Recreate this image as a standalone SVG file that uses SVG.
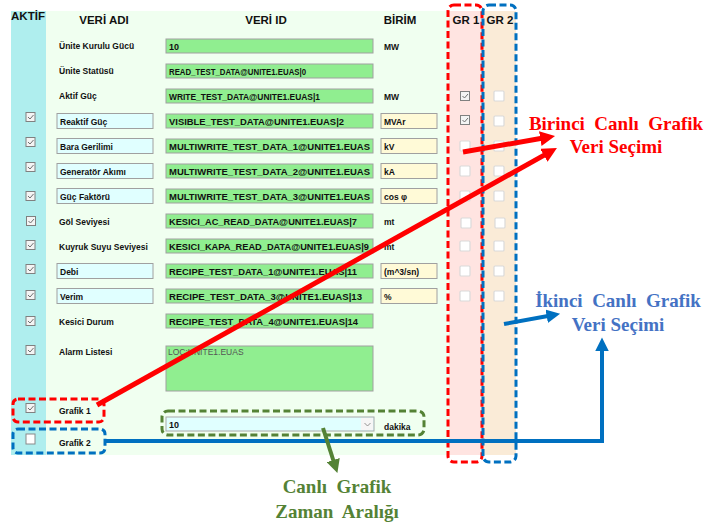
<svg xmlns="http://www.w3.org/2000/svg" width="713" height="523" viewBox="0 0 713 523">
<style>
.lbl{font-family:"Liberation Sans",Arial,sans-serif;font-weight:bold;font-size:8.5px;fill:#111}
.hdr{font-family:"Liberation Sans",Arial,sans-serif;font-weight:bold;font-size:11.5px;fill:#111}
.idt{font-family:"Liberation Sans",Arial,sans-serif;font-weight:bold;font-size:9px;fill:#111}
.idbox{fill:#90EE90;stroke:#A0A0A0;stroke-width:1}
.nbox{fill:#E0FFFF;stroke:#A0A0A0;stroke-width:1}
.ubox{fill:#FFFAD7;stroke:#A0A0A0;stroke-width:1}
.ann{font-family:"Liberation Serif","Times New Roman",serif;font-weight:bold;font-size:19px;white-space:pre}
.cb{fill:#F4F4F4;stroke:#808080;stroke-width:1}
.ck{fill:none;stroke:#707070;stroke-width:1}
.ucb{fill:#FFFFFF;stroke:#DADADA;stroke-width:1.2}
</style>
<defs>
<marker id="ahR" viewBox="0 0 10 10" refX="3" refY="5" markerWidth="3" markerHeight="3" orient="auto" markerUnits="strokeWidth"><path d="M0,0 L10,5 L0,10 z" fill="#FF0000"/></marker>
<marker id="ahB" viewBox="0 0 10 10" refX="3" refY="5" markerWidth="3.4" markerHeight="3.4" orient="auto" markerUnits="strokeWidth"><path d="M0,0 L10,5 L0,10 z" fill="#0070C0"/></marker>
<marker id="ahG" viewBox="0 0 10 10" refX="3" refY="5" markerWidth="3.4" markerHeight="3.4" orient="auto" markerUnits="strokeWidth"><path d="M0,0 L10,5 L0,10 z" fill="#548235"/></marker>
<g id="chk"><rect class="cb" x="-4.5" y="-4.5" width="9" height="9"/><path class="ck" d="M-2.5,0 L-0.5,2 L3,-2"/></g>
<g id="uchk"><rect class="ucb" x="-5" y="-5" width="10" height="10" rx="1"/></g>
</defs>

<g id="panel">
<rect x="46" y="11" width="403" height="444" fill="#F0FFF0"/>
<rect x="11" y="11" width="35" height="444" fill="#AFEEEE"/>
<rect x="449" y="11" width="34" height="444" fill="#FFE4E1"/>
<rect x="483" y="11" width="33" height="444" fill="#FAEBD7"/>
</g>

<g id="headers">
<text class="hdr" x="28" y="20" text-anchor="middle" font-size="10.5">AKTİF</text>
<text class="hdr" x="104" y="24" text-anchor="middle">VERİ ADI</text>
<text class="hdr" x="266" y="24" text-anchor="middle">VERİ ID</text>
<text class="hdr" x="400" y="24" text-anchor="middle">BİRİM</text>
<text class="hdr" x="466" y="24" text-anchor="middle" font-size="11">GR 1</text>
<text class="hdr" x="500" y="24" text-anchor="middle" font-size="11">GR 2</text>
</g>

<g id="row1"><text class="lbl" x="59" y="49">Ünite Kurulu Gücü</text><rect class="idbox" x="166" y="39" width="207" height="14"/><text class="idt" x="169" y="49.5">10</text><text class="lbl" x="384" y="49.5" font-size="7.5">MW</text></g>
<g id="row2"><text class="lbl" x="59" y="74">Ünite Statüsü</text><rect class="idbox" x="166" y="64" width="207" height="14"/><text class="idt" x="169" y="74.5" textLength="137" lengthAdjust="spacingAndGlyphs">READ_TEST_DATA@UNITE1.EUAS|0</text></g>
<g id="row3"><text class="lbl" x="59" y="99">Aktif Güç</text><rect class="idbox" x="166" y="89" width="207" height="14"/><text class="idt" x="169" y="99.5" textLength="151" lengthAdjust="spacingAndGlyphs">WRITE_TEST_DATA@UNITE1.EUAS|1</text><text class="lbl" x="384" y="99.5" font-size="7.5">MW</text><use href="#chk" x="465" y="96"/><use href="#uchk" x="499" y="96"/></g>
<g id="row4"><use href="#chk" x="30.5" y="117"/><rect class="nbox" x="57" y="113.5" width="96" height="15"/><text class="lbl" x="60" y="124.5">Reaktif Güç</text><rect class="idbox" x="166" y="114" width="207" height="14"/><text class="idt" x="169" y="124.5" textLength="175" lengthAdjust="spacingAndGlyphs">VISIBLE_TEST_DATA@UNITE1.EUAS|2</text><rect class="ubox" x="381" y="113.5" width="56" height="15"/><text class="lbl" x="384" y="124.5">MVAr</text><use href="#chk" x="465" y="120"/><use href="#uchk" x="499" y="121"/></g>
<g id="row5"><use href="#chk" x="30.5" y="142"/><rect class="nbox" x="57" y="138.5" width="96" height="15"/><text class="lbl" x="60" y="149.5">Bara Gerilimi</text><rect class="idbox" x="166" y="139" width="207" height="14"/><text class="idt" x="169" y="149.5" textLength="201" lengthAdjust="spacingAndGlyphs">MULTIWRITE_TEST_DATA_1@UNITE1.EUAS</text><rect class="ubox" x="381" y="138.5" width="56" height="15"/><text class="lbl" x="384" y="149.5">kV</text><use href="#uchk" x="465" y="146"/><use href="#uchk" x="499" y="146"/></g>
<g id="row6"><use href="#chk" x="30.5" y="167"/><rect class="nbox" x="57" y="163.5" width="96" height="15"/><text class="lbl" x="60" y="174.5">Generatör Akımı</text><rect class="idbox" x="166" y="164" width="207" height="14"/><text class="idt" x="169" y="174.5" textLength="201" lengthAdjust="spacingAndGlyphs">MULTIWRITE_TEST_DATA_2@UNITE1.EUAS</text><rect class="ubox" x="381" y="163.5" width="56" height="15"/><text class="lbl" x="384" y="174.5">kA</text><use href="#uchk" x="465" y="171"/><use href="#uchk" x="499" y="171"/></g>
<g id="row7"><use href="#chk" x="30.5" y="196"/><rect class="nbox" x="57" y="188.5" width="96" height="15"/><text class="lbl" x="60" y="199.5">Güç Faktörü</text><rect class="idbox" x="166" y="189" width="207" height="14"/><text class="idt" x="169" y="199.5" textLength="201" lengthAdjust="spacingAndGlyphs">MULTIWRITE_TEST_DATA_3@UNITE1.EUAS</text><rect class="ubox" x="381" y="188.5" width="56" height="15"/><text class="lbl" x="384" y="199.5">cos φ</text><use href="#uchk" x="465" y="196"/><use href="#uchk" x="499" y="196"/></g>
<g id="row8"><use href="#chk" x="31" y="221"/><text class="lbl" x="59" y="224.5">Göl Seviyesi</text><rect class="idbox" x="166" y="214" width="207" height="14"/><text class="idt" x="169" y="224.5" textLength="188" lengthAdjust="spacingAndGlyphs">KESICI_AC_READ_DATA@UNITE1.EUAS|7</text><text class="lbl" x="384" y="224.5" font-size="7.5">mt</text><use href="#uchk" x="466" y="223"/><use href="#uchk" x="500" y="223"/></g>
<g id="row9"><use href="#chk" x="30.5" y="245"/><text class="lbl" x="59" y="249.5">Kuyruk Suyu Seviyesi</text><rect class="idbox" x="166" y="239" width="207" height="14"/><text class="idt" x="169" y="249.5" textLength="200" lengthAdjust="spacingAndGlyphs">KESICI_KAPA_READ_DATA@UNITE1.EUAS|9</text><text class="lbl" x="384" y="249.5" font-size="7.5">mt</text><use href="#uchk" x="465" y="246"/><use href="#uchk" x="499" y="246"/></g>
<g id="row10"><use href="#chk" x="30.5" y="269"/><rect class="nbox" x="57" y="263.5" width="96" height="15"/><text class="lbl" x="60" y="274.5">Debi</text><rect class="idbox" x="166" y="264" width="207" height="14"/><text class="idt" x="169" y="274.5" textLength="188" lengthAdjust="spacingAndGlyphs">RECIPE_TEST_DATA_1@UNITE1.EUAS|11</text><rect class="ubox" x="381" y="263.5" width="56" height="15"/><text class="lbl" x="384" y="274.5">(m^3/sn)</text><use href="#uchk" x="465" y="271"/><use href="#uchk" x="499" y="271"/></g>
<g id="row11"><use href="#chk" x="30.5" y="295"/><rect class="nbox" x="57" y="288.5" width="96" height="15"/><text class="lbl" x="60" y="299.5">Verim</text><rect class="idbox" x="166" y="289" width="207" height="14"/><text class="idt" x="169" y="299.5" textLength="193" lengthAdjust="spacingAndGlyphs">RECIPE_TEST_DATA_3@UNITE1.EUAS|13</text><rect class="ubox" x="381" y="288.5" width="56" height="15"/><text class="lbl" x="384" y="299.5">%</text><use href="#uchk" x="465" y="296"/><use href="#uchk" x="499" y="296"/></g>
<g id="row12"><use href="#chk" x="30.5" y="321"/><text class="lbl" x="59" y="325">Kesici Durum</text><rect class="idbox" x="166" y="314" width="207" height="14"/><text class="idt" x="169" y="324.5" textLength="189" lengthAdjust="spacingAndGlyphs">RECIPE_TEST_DATA_4@UNITE1.EUAS|14</text></g>
<g id="row13"><use href="#chk" x="30.5" y="350"/><text class="lbl" x="59" y="355">Alarm Listesi</text><rect class="idbox" x="166" y="346" width="207" height="45"/><text x="168" y="355" font-family="'Liberation Sans',Arial,sans-serif" font-size="8.5" fill="#555">LOC:UNITE1.EUAS</text></g>

<g id="grafik1"><use href="#chk" x="30.5" y="408"/><text class="lbl" x="59" y="413.5">Grafik 1</text></g>
<g id="grafik2"><rect x="26" y="434" width="9" height="10" fill="#fff" stroke="#8A8A8A" stroke-width="1"/><text class="lbl" x="59" y="445.5">Grafik 2</text></g>
<g id="interval">
<rect x="166" y="417" width="208" height="14" fill="#E0FFFF" stroke="#A8A8A8" stroke-width="1"/>
<rect x="361" y="418" width="12" height="12" fill="#F6F6F6"/>
<path d="M364.5,423 L367.5,426 L370.5,423" fill="none" stroke="#888" stroke-width="0.9"/>
<text class="idt" x="169" y="427.5">10</text>
<text class="lbl" x="384" y="430" font-size="8">dakika</text>
</g>

<g id="highlights" fill="none" stroke-width="3" stroke-dasharray="7 3.5">
<rect x="448" y="5" width="34" height="457" rx="6" stroke="#FF0000"/>
<rect x="483" y="5" width="33" height="457" rx="6" stroke="#0070C0"/>
<rect x="13" y="399" width="91" height="23" rx="5" stroke="#FF0000"/>
<rect x="13" y="429" width="92" height="24" rx="5" stroke="#0070C0"/>
<rect x="162" y="411" width="262" height="24" rx="6" stroke="#548235"/>
</g>

<g id="connectors" fill="none">
<line x1="463" y1="152" x2="544.7" y2="137.8" stroke="#FF0000" stroke-width="5" marker-end="url(#ahR)"/>
<line x1="97" y1="405" x2="547.8" y2="153.1" stroke="#FF0000" stroke-width="5" marker-end="url(#ahR)"/>
<line x1="504" y1="324" x2="550.7" y2="315.5" stroke="#0070C0" stroke-width="4" marker-end="url(#ahB)"/>
<polyline points="105,441 602,441 602,347" stroke="#0070C0" stroke-width="4" marker-end="url(#ahB)"/>
<line x1="323" y1="428" x2="334.5" y2="464" stroke="#548235" stroke-width="4" marker-end="url(#ahG)"/>
</g>

<g id="labels">
<text class="ann" x="616" y="130" text-anchor="middle" fill="#FF0000">Birinci  Canlı  Grafik</text>
<text class="ann" x="616" y="153" text-anchor="middle" fill="#FF0000">Veri Seçimi</text>
<text class="ann" x="618" y="307" text-anchor="middle" fill="#4472C4">İkinci  Canlı  Grafik</text>
<text class="ann" x="618" y="331" text-anchor="middle" fill="#4472C4">Veri Seçimi</text>
<text class="ann" x="337" y="493" text-anchor="middle" fill="#548235">Canlı  Grafik</text>
<text class="ann" x="337" y="518" text-anchor="middle" fill="#548235">Zaman  Aralığı</text>
</g>
</svg>
